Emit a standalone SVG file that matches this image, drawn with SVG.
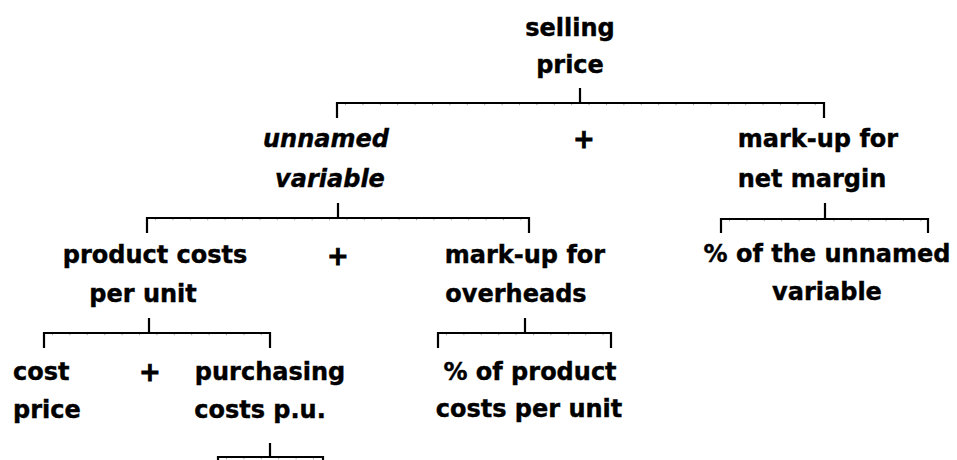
<svg xmlns="http://www.w3.org/2000/svg" width="957" height="460" viewBox="0 0 957 460">
<style>
  text { font-family: "DejaVu Sans", "Liberation Sans", sans-serif; font-weight: bold; font-size: 24px; fill: #000; stroke: #000; stroke-width: 0.4; }
  .mid { text-anchor: middle; }
  .it { font-style: italic; }
  .op { font-size: 26px; text-anchor: middle; stroke-width: 0.8; }
  .br { fill: none; stroke: #000; stroke-width: 2.2; }
  .tk { fill: none; stroke: #aaa; stroke-width: 1.2; stroke-dasharray: 1 16.4; }
</style>
<rect width="957" height="460" fill="#fff"/>
<g id="connectors">
  <path class="br" d="M580,88 V103 M337,118 V103 H824 V118"/>
  <path class="tk" d="M345,104.6 H822"/>
  <path class="br" d="M338,203 V218 M147,233 V218 H529 V233"/>
  <path class="tk" d="M155,219.6 H527"/>
  <path class="br" d="M825,203 V219 M721,233 V219 H928 V233"/>
  <path class="tk" d="M729,220.6 H926"/>
  <path class="br" d="M149,318 V333 M44,348 V333 H270 V348"/>
  <path class="tk" d="M52,334.6 H268"/>
  <path class="br" d="M525,318 V333 M438,348 V333 H611 V348"/>
  <path class="tk" d="M446,334.6 H609"/>
  <path class="br" d="M270,443 V457 M218,462 V457 H323 V462"/>
  <path class="tk" d="M226,458.6 H321"/>
</g>
<g id="selling-price"><text class="mid" x="570" y="36">selling</text><text class="mid" x="570" y="73">price</text></g>
<g id="unnamed-variable"><text class="mid it" x="326" y="147">unnamed</text><text class="mid it" x="330" y="187">variable</text></g>
<g id="markup-net-margin"><text class="mid" x="818" y="147">mark-up for</text><text class="mid" x="812" y="187">net margin</text></g>
<g id="product-costs"><text class="mid" x="155" y="263">product costs</text><text class="mid" x="143" y="302">per unit</text></g>
<g id="markup-overheads"><text class="mid" x="525" y="263">mark-up for</text><text class="mid" x="516" y="302">overheads</text></g>
<g id="pct-unnamed"><text class="mid" x="827" y="262">% of the unnamed</text><text class="mid" x="827" y="300">variable</text></g>
<g id="cost-price"><text x="13" y="380">cost</text><text x="13" y="418">price</text></g>
<g id="purchasing-costs"><text class="mid" x="270" y="380">purchasing</text><text class="mid" x="260" y="418">costs p.u.</text></g>
<g id="pct-product"><text class="mid" x="530" y="380">% of product</text><text class="mid" x="529" y="417">costs per unit</text></g>
<g id="operators">
  <text class="op" x="584" y="148">+</text>
  <text class="op" x="338" y="265">+</text>
  <text class="op" x="150" y="381">+</text>
</g>
</svg>
